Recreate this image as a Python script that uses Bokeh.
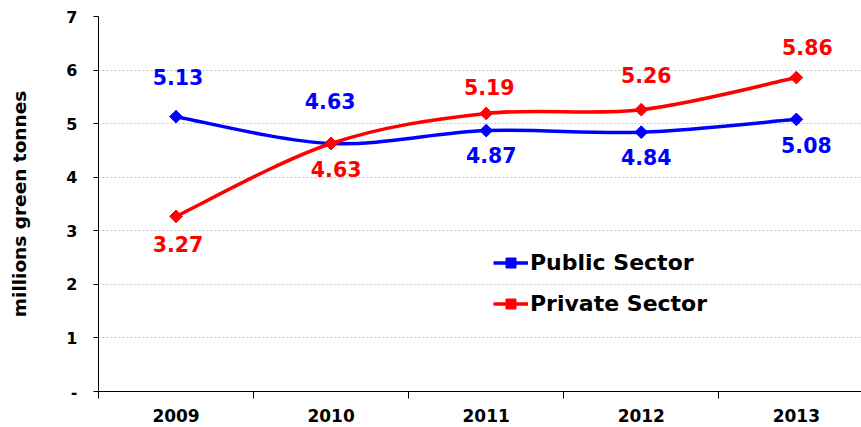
import numpy as np
from bokeh.plotting import figure
from bokeh.models import Range1d, FixedTicker, Legend, LegendItem, ColumnDataSource
from bokeh.core.properties import value
from bokeh.embed import file_html
from bokeh.resources import INLINE

# ---- data ----
years = ["2009", "2010", "2011", "2012", "2013"]
public = [5.13, 4.63, 4.87, 4.84, 5.08]
private = [3.27, 4.63, 5.19, 5.26, 5.86]
y_ticks = [0, 1, 2, 3, 4, 5, 6, 7]

# label placement (screen pixel offsets, styling only)
pub_dx = [2, -1, 5, 5, 10]
pub_dy = [-40, -42, 24, 25, 26]
pri_dx = [2, 5, 3, 5, 11]
pri_dy = [28, 26, -26, -35, -31]

BLUE = "#0000FF"
RED = "#FF0000"
FONT = "DejaVu Sans"

xs = list(range(len(years)))

p = figure(width=861, height=427,
           x_range=Range1d(-0.5, 4.42), y_range=Range1d(0, 7),
           output_backend="svg", toolbar_location=None,
           min_border_left=98, min_border_right=0,
           min_border_top=16, min_border_bottom=36)
p.outline_line_color = None
p.background_fill_color = "white"
p.border_fill_color = "white"

# grid
p.xgrid.grid_line_color = None
p.ygrid.grid_line_color = "#c4c4c4"
p.ygrid.grid_line_dash = "2 2"
p.ygrid.grid_line_width = 1

# x axis: labels at centres, tick marks at category boundaries
p.xaxis.ticker = FixedTicker(ticks=xs, minor_ticks=[i - 0.5 for i in xs])
p.xaxis.major_label_overrides = {i: y for i, y in zip(xs, years)}
p.xaxis.major_tick_out = 0
p.xaxis.major_tick_in = 0
p.xaxis.minor_tick_out = 7
p.xaxis.minor_tick_in = 0
p.xaxis.minor_tick_line_color = "black"
p.xaxis.axis_line_color = "black"
p.xaxis.major_label_text_font = FONT
p.xaxis.major_label_text_font_style = "bold"
p.xaxis.major_label_text_font_size = "17px"
p.xaxis.major_label_text_color = "black"
p.xaxis.major_label_standoff = 10

# y axis
p.yaxis.ticker = FixedTicker(ticks=y_ticks)
p.yaxis.major_label_overrides = {0: "-"}
p.yaxis.major_tick_out = 5
p.yaxis.major_tick_in = 0
p.yaxis.minor_tick_line_color = None
p.yaxis.axis_line_color = "black"
p.yaxis.major_label_text_font = FONT
p.yaxis.major_label_text_font_style = "bold"
p.yaxis.major_label_text_font_size = "16px"
p.yaxis.major_label_text_color = "black"
p.yaxis.major_label_standoff = 16
p.yaxis.axis_label = "millions green tonnes"
p.yaxis.axis_label_text_font = FONT
p.yaxis.axis_label_text_font_style = "bold"
p.yaxis.axis_label_text_font_size = "18.5px"
p.yaxis.axis_label_text_color = "black"
p.yaxis.axis_label_standoff = 33


def smooth_segments(xv, yv):
    """Bezier segments through the data points (Excel-style smoothing)."""
    n = len(xv)
    d = dict(x0=[], y0=[], x1=[], y1=[], cx0=[], cy0=[], cx1=[], cy1=[])
    for i in range(n - 1):
        im1 = max(i - 1, 0)
        ip2 = min(i + 2, n - 1)
        d["x0"].append(xv[i]); d["y0"].append(yv[i])
        d["x1"].append(xv[i + 1]); d["y1"].append(yv[i + 1])
        d["cx0"].append(xv[i] + (xv[i + 1] - xv[im1]) / 6)
        d["cy0"].append(yv[i] + (yv[i + 1] - yv[im1]) / 6)
        d["cx1"].append(xv[i + 1] - (xv[ip2] - xv[i]) / 6)
        d["cy1"].append(yv[i + 1] - (yv[ip2] - yv[i]) / 6)
    return ColumnDataSource(d)


def series(vals, color, dx, dy):
    bz = p.bezier(x0="x0", y0="y0", x1="x1", y1="y1", cx0="cx0", cy0="cy0",
                  cx1="cx1", cy1="cy1", source=smooth_segments(xs, vals),
                  line_color=color, line_width=3.5)
    sc = p.scatter(xs, vals, marker="square", size=9, angle=np.pi / 4,
                   fill_color=color, line_color=color)
    p.text(x=xs, y=vals, text=[f"{v:.2f}" for v in vals],
           x_offset=dx, y_offset=dy,
           text_align="center", text_baseline="middle",
           text_color=color, text_font=value(FONT),
           text_font_style="bold", text_font_size="20.5px")
    return bz, sc


pub_bz, pub_sc = series(public, BLUE, pub_dx, pub_dy)
pri_bz, pri_sc = series(private, RED, pri_dx, pri_dy)

legend = Legend(items=[LegendItem(label="Public Sector", renderers=[pub_bz, pub_sc]),
                       LegendItem(label="Private Sector", renderers=[pri_bz, pri_sc])],
                location=(395, 75), orientation="vertical",
                border_line_color=None, background_fill_alpha=0,
                padding=0, margin=0, spacing=16,
                glyph_width=35, glyph_height=25, label_height=25,
                label_standoff=2,
                label_text_font=FONT, label_text_font_style="bold",
                label_text_font_size="22px", label_text_color="black")
p.add_layout(legend)

open("out.html", "w").write(file_html(p, INLINE))
